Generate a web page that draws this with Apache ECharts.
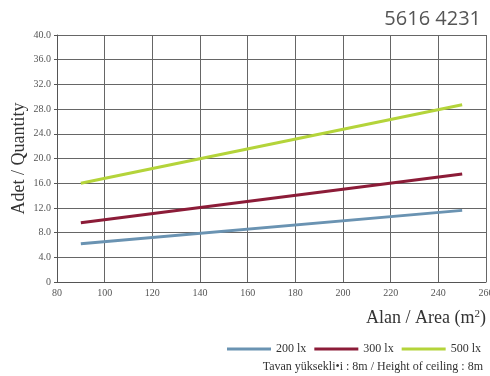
<!DOCTYPE html>
<html><head><meta charset="utf-8">
<script src="https://cdn.jsdelivr.net/npm/echarts@6/dist/echarts.min.js"></script>
<style>html,body{margin:0;padding:0;background:#fff}#c{width:490px;height:376px}</style>
</head><body><div id="c"></div>
<script>
const areas = [90, 250];
const lux200 = [6.2, 11.6];
const lux300 = [9.6, 17.5];
const lux500 = [16.0, 28.7];
const seriesNames = ['200 lx', '300 lx', '500 lx'];
const seriesColors = ['#6a93b2', '#8c1c38', '#b4d43a'];
const xTicks = [80, 100, 120, 140, 160, 180, 200, 220, 240, 260];
const yTicks = [0, 4, 8, 12, 16, 20, 24, 28, 32, 36, 40];

const serif = 'Liberation Serif';
const chart = echarts.init(document.getElementById('c'), null, {renderer: 'canvas'});
const mk = (vals) => areas.map((a, i) => [a, vals[i]]);
chart.setOption({
  animation: false,
  title: [{
    text: '5616 4231', right: 4, top: 4,
    textStyle: {fontFamily: 'Open Sans', fontSize: 20, fontWeight: 'normal', color: '#555'}
  }, {
    text: 'Tavan yüksekli•i : 8m / Height of ceiling : 8m', right: 2, top: 356,
    textStyle: {fontFamily: serif, fontSize: 12, fontWeight: 'normal', color: '#333'}
  }],
  legend: {
    right: 4, top: 338, itemWidth: 44, itemHeight: 3, itemGap: 8, icon: 'rect',
    textStyle: {fontFamily: serif, fontSize: 12, color: '#333'},
    data: seriesNames
  },
  grid: {left: 57, right: 4, top: 35, bottom: 94, containLabel: false, outerBoundsMode: 'none'},
  xAxis: {
    type: 'value', min: xTicks[0], max: xTicks[xTicks.length - 1], interval: 20,
    name: '{a|Alan / Area (m}{s|2}{a|)}', nameLocation: 'end', nameGap: 0,
    nameMoveOverlap: false,
    nameTextStyle: {
      align: 'right', verticalAlign: 'top', padding: [27, 0, 0, 0],
      rich: {a: {fontFamily: serif, fontSize: 18, color: '#333'},
             s: {fontFamily: serif, fontSize: 11, color: '#333', verticalAlign: 'top', padding: [0, 0, 8, 0]}}
    },
    axisLine: {lineStyle: {color: '#555', width: 1}},
    axisTick: {show: false},
    axisLabel: {fontFamily: serif, fontSize: 10, color: '#555', margin: 6, showMaxLabel: true},
    splitLine: {show: true, lineStyle: {color: '#666', width: 1}}
  },
  yAxis: {
    type: 'value', min: yTicks[0], max: yTicks[yTicks.length - 1], interval: 4,
    name: 'Adet / Quantity', nameLocation: 'middle', nameGap: 29, nameRotate: 90,
    nameMoveOverlap: false,
    nameTextStyle: {fontFamily: serif, fontSize: 18, color: '#333'},
    axisLine: {show: true, lineStyle: {color: '#555', width: 1}},
    axisTick: {show: true, length: 3, lineStyle: {color: '#555'}},
    axisLabel: {fontFamily: serif, fontSize: 10, color: '#555', margin: 6,
      formatter: v => v === 0 ? '0' : v.toFixed(1)},
    splitLine: {show: true, lineStyle: {color: '#666', width: 1}}
  },
  series: [lux200, lux300, lux500].map((vals, i) => ({
    name: seriesNames[i], type: 'line', data: mk(vals), symbol: 'none',
    lineStyle: {color: seriesColors[i], width: 3}, itemStyle: {color: seriesColors[i]}
  }))
});
</script></body></html>
